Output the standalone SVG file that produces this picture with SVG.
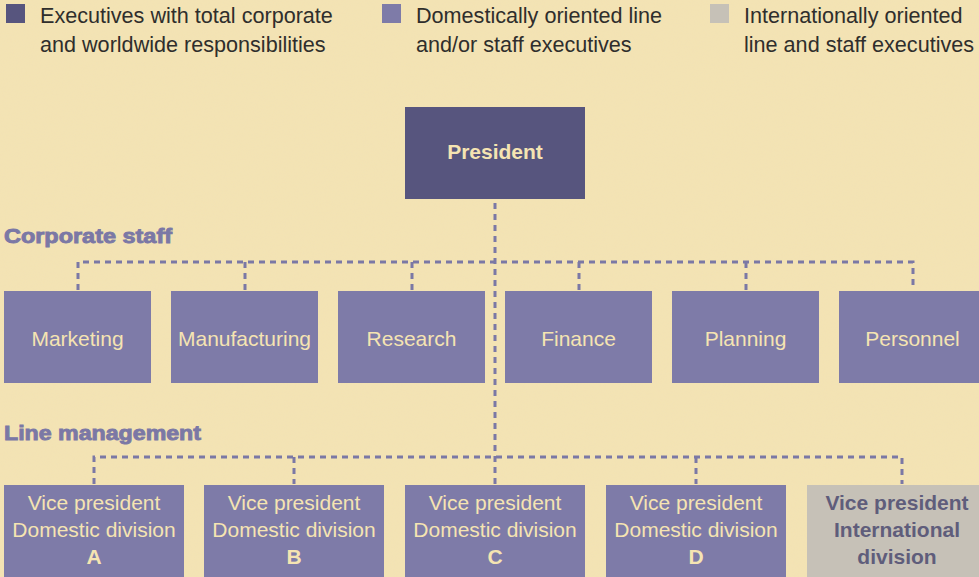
<svg xmlns="http://www.w3.org/2000/svg" width="979" height="577" viewBox="0 0 979 577">
  <defs>
    <filter id="grain" x="0" y="0" width="100%" height="100%">
      <feTurbulence type="fractalNoise" baseFrequency="0.9" numOctaves="2" seed="3" result="n"/>
      <feColorMatrix in="n" type="matrix" values="0 0 0 0 0.85  0 0 0 0 0.75  0 0 0 0 0.5  0 0 0 0.35 0" result="c"/>
      <feComposite in="c" in2="SourceGraphic" operator="in" result="m"/>
      <feMerge><feMergeNode in="SourceGraphic"/><feMergeNode in="m"/></feMerge>
    </filter>
  </defs>
  <style>
    text { font-family: "Liberation Sans", Arial, Helvetica, sans-serif; }
    .legend { font-size: 21.6px; fill: #2f2e2c; }
    .section { font-size: 20.5px; font-weight: bold; fill: #7b78a5; stroke: #7b78a5; stroke-width: 0.9; }
    .dark { fill: #57557e; }
    .dom { fill: #7e7ba8; }
    .intl { fill: #c6c1b7; }
    .lt { font-size: 21px; fill: #f5e4b2; text-anchor: middle; }
    .ltb { font-size: 21px; font-weight: bold; fill: #f5e4b2; text-anchor: middle; }
    .it { font-size: 21px; font-weight: bold; fill: #5f5d7b; text-anchor: middle; }
    .conn { fill: none; stroke: #7b78a5; stroke-width: 3; stroke-dasharray: 6 5; }
  </style>
  <rect x="0" y="0" width="979" height="577" fill="#f4e3b2" filter="url(#grain)"/>

  <g id="legend">
    <rect x="6" y="4" width="19" height="19" class="dark"/>
    <text class="legend" x="40" y="23">Executives with total corporate</text>
    <text class="legend" x="40" y="52">and worldwide responsibilities</text>
    <rect x="382" y="4" width="19" height="19" class="dom"/>
    <text class="legend" x="416" y="23">Domestically oriented line</text>
    <text class="legend" x="416" y="52">and/or staff executives</text>
    <rect x="710" y="4" width="19" height="19" class="intl"/>
    <text class="legend" x="744" y="23">Internationally oriented</text>
    <text class="legend" x="744" y="52">line and staff executives</text>
  </g>

  <text class="section" x="4" y="243" textLength="168" lengthAdjust="spacingAndGlyphs">Corporate staff</text>
  <text class="section" x="4" y="440" textLength="197" lengthAdjust="spacingAndGlyphs">Line management</text>

  <g id="connectors">
    <path class="conn" d="M495 203 V485"/>
    <path class="conn" d="M78 290 V262 H913 V290"/>
    <path class="conn" d="M245 262 V290 M412 262 V290 M579 262 V290 M746 262 V290"/>
    <path class="conn" d="M94 484 V457 H902 V484"/>
    <path class="conn" d="M294 457 V484 M696 457 V484"/>
  </g>

  <g id="president">
    <rect x="405" y="107" width="180" height="92" class="dark"/>
    <text class="ltb" x="495" y="159">President</text>
  </g>

  <g id="marketing">
    <rect x="4" y="291" width="147" height="92" class="dom"/>
    <text class="lt" x="77.5" y="346">Marketing</text>
  </g>
  <g id="manufacturing">
    <rect x="171" y="291" width="147" height="92" class="dom"/>
    <text class="lt" x="244.5" y="346">Manufacturing</text>
  </g>
  <g id="research">
    <rect x="338" y="291" width="147" height="92" class="dom"/>
    <text class="lt" x="411.5" y="346">Research</text>
  </g>
  <g id="finance">
    <rect x="505" y="291" width="147" height="92" class="dom"/>
    <text class="lt" x="578.5" y="346">Finance</text>
  </g>
  <g id="planning">
    <rect x="672" y="291" width="147" height="92" class="dom"/>
    <text class="lt" x="745.5" y="346">Planning</text>
  </g>
  <g id="personnel">
    <rect x="839" y="291" width="147" height="92" class="dom"/>
    <text class="lt" x="912.5" y="346">Personnel</text>
  </g>

  <g id="vp-a">
    <rect x="4" y="485" width="180" height="92" class="dom"/>
    <text class="lt" x="94" y="510">Vice president</text>
    <text class="lt" x="94" y="537">Domestic division</text>
    <text class="ltb" x="94" y="564">A</text>
  </g>
  <g id="vp-b">
    <rect x="204" y="485" width="180" height="92" class="dom"/>
    <text class="lt" x="294" y="510">Vice president</text>
    <text class="lt" x="294" y="537">Domestic division</text>
    <text class="ltb" x="294" y="564">B</text>
  </g>
  <g id="vp-c">
    <rect x="405" y="485" width="180" height="92" class="dom"/>
    <text class="lt" x="495" y="510">Vice president</text>
    <text class="lt" x="495" y="537">Domestic division</text>
    <text class="ltb" x="495" y="564">C</text>
  </g>
  <g id="vp-d">
    <rect x="606" y="485" width="180" height="92" class="dom"/>
    <text class="lt" x="696" y="510">Vice president</text>
    <text class="lt" x="696" y="537">Domestic division</text>
    <text class="ltb" x="696" y="564">D</text>
  </g>
  <g id="vp-international">
    <rect x="807" y="485" width="180" height="92" class="intl"/>
    <text class="it" x="897" y="510">Vice president</text>
    <text class="it" x="897" y="537">International</text>
    <text class="it" x="897" y="564">division</text>
  </g>
</svg>
